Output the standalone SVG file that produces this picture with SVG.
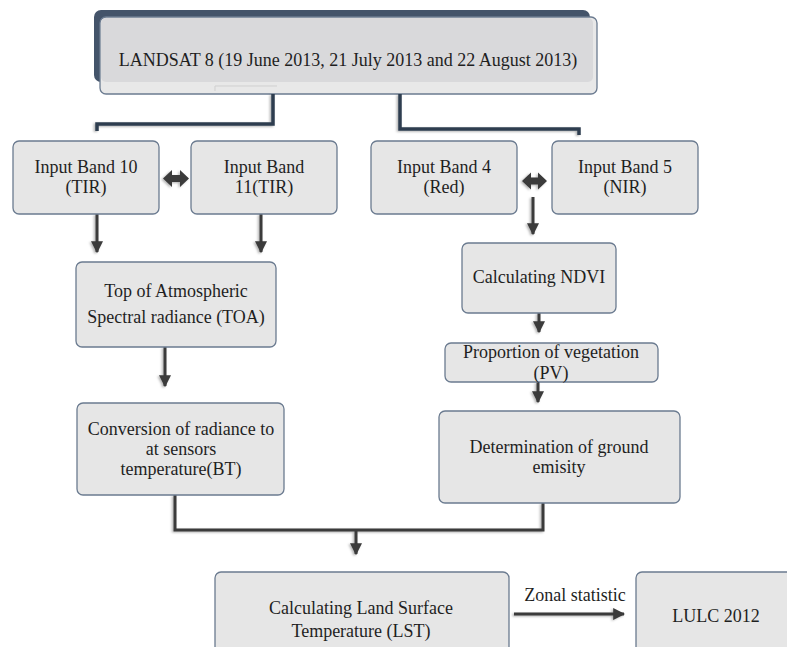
<svg xmlns="http://www.w3.org/2000/svg" width="787" height="647" viewBox="0 0 787 647">
<style>
.box{fill:#e6e6e6;stroke:#6b7b90;stroke-width:1.3}
text{font-family:"Liberation Serif","Times New Roman",serif;font-size:18px;fill:#1f1f1f;text-anchor:middle}
.ln{fill:none;stroke:#3a3a3a;stroke-width:3}
.top{fill:none;stroke:#2f3c4f;stroke-width:3.5}
.arr{fill:#3a3a3a}
</style>
<defs>
<filter id="sh" filterUnits="userSpaceOnUse" x="0" y="0" width="787" height="647">
<feDropShadow dx="-1.5" dy="1" stdDeviation="1.2" flood-color="#000" flood-opacity="0.3"/>
</filter>
<marker id="ah" viewBox="0 0 10 10" refX="9" refY="5" markerWidth="4" markerHeight="4" orient="auto" markerUnits="strokeWidth">
<path d="M0,0 L10,5 L0,10 z" fill="#3a3a3a"/>
</marker>
</defs>
<rect width="787" height="647" fill="#ffffff"/>

<g id="landsat" font-family="Liberation Serif, serif">
<rect x="94" y="10" width="496" height="72" rx="7" fill="#44546a"/>
<rect x="100" y="17" width="497" height="77" rx="6" fill="#e8e8e8" stroke="#6b7b90" stroke-width="1.3"/>
<rect x="101" y="18" width="492" height="64" rx="5" fill="#d9d9db"/>
<path d="M215,91 V86 H277" fill="none" stroke="#cfcfcf" stroke-width="1"/>
<text x="348" y="66" font-size="19.3">LANDSAT 8 (19 June 2013, 21 July 2013 and 22 August 2013)</text>
</g>

<g id="connectors" filter="url(#sh)">
<path class="top" d="M273,94 V124 H97 V131"/>
<path class="top" d="M400,94 V129 H579 V135"/>
<path class="ln" d="M97,214 V252" marker-end="url(#ah)"/>
<path class="ln" d="M261,214 V252" marker-end="url(#ah)"/>
<path class="ln" d="M165,347 V386" marker-end="url(#ah)"/>
<path class="ln" d="M533,197 V234" marker-end="url(#ah)"/>
<path class="ln" d="M539,313 V332" marker-end="url(#ah)"/>
<path class="ln" d="M538,382 V402" marker-end="url(#ah)"/>
<path class="ln" d="M175,495 V530 H543 V503"/>
<path class="ln" d="M356,530 V554" marker-end="url(#ah)"/>
<path class="ln" d="M514,614 H624" marker-end="url(#ah)"/>
<polygon class="arr" points="163,178.5 172,170 172,175 180,175 180,170 189,178.5 180,187 180,182 172,182 172,187"/>
<polygon class="arr" points="522,181 531,172.5 531,177.5 538,177.5 538,172.5 547,181 538,189.5 538,184.5 531,184.5 531,189.5"/>
</g>
<text x="575" y="601" font-family="Liberation Serif, serif" font-size="13.5">Zonal statistic</text>

<g id="band10" font-family="Liberation Serif, serif">
<rect class="box" x="13" y="141" width="146" height="73" rx="6"/>
<text x="86" y="173">Input Band 10</text>
<text x="86" y="193">(TIR)</text>
</g>
<g id="band11" font-family="Liberation Serif, serif">
<rect class="box" x="191" y="141" width="146" height="73" rx="6"/>
<text x="264" y="173">Input Band</text>
<text x="264" y="193">11(TIR)</text>
</g>
<g id="band4" font-family="Liberation Serif, serif">
<rect class="box" x="371" y="141" width="146" height="73" rx="6"/>
<text x="444" y="173">Input Band 4</text>
<text x="444" y="193">(Red)</text>
</g>
<g id="band5" font-family="Liberation Serif, serif">
<rect class="box" x="552" y="141" width="146" height="73" rx="6"/>
<text x="625" y="173">Input Band 5</text>
<text x="625" y="193">(NIR)</text>
</g>
<g id="toa" font-family="Liberation Serif, serif">
<rect class="box" x="76" y="262" width="200" height="85" rx="6"/>
<text x="176" y="297">Top of Atmospheric</text>
<text x="176" y="323">Spectral radiance  (TOA)</text>
</g>
<g id="bt" font-family="Liberation Serif, serif">
<rect class="box" x="77" y="403" width="207" height="92" rx="6"/>
<text x="181" y="435">Conversion  of radiance  to</text>
<text x="181" y="455">at sensors</text>
<text x="181" y="475">temperature(BT)</text>
</g>
<g id="ndvi" font-family="Liberation Serif, serif">
<rect class="box" x="462" y="243" width="154" height="70" rx="6"/>
<text x="539" y="283">Calculating  NDVI</text>
</g>
<g id="pv" font-family="Liberation Serif, serif">
<rect class="box" x="445" y="343" width="213" height="39" rx="6"/>
<text x="551" y="358">Proportion  of vegetation</text>
<text x="551" y="379">(PV)</text>
</g>
<g id="emissivity" font-family="Liberation Serif, serif">
<rect class="box" x="439" y="411" width="241" height="92" rx="6"/>
<text x="559" y="453">Determination  of ground</text>
<text x="559" y="473">emisity</text>
</g>
<g id="lst" font-family="Liberation Serif, serif">
<rect class="box" x="215" y="572" width="294" height="90" rx="6"/>
<text x="361" y="614">Calculating  Land Surface</text>
<text x="361" y="637">Temperature  (LST)</text>
</g>
<g id="lulc" font-family="Liberation Serif, serif">
<rect class="box" x="636" y="572" width="170" height="90" rx="6"/>
<text x="716" y="622">LULC 2012</text>
</g>
</svg>
